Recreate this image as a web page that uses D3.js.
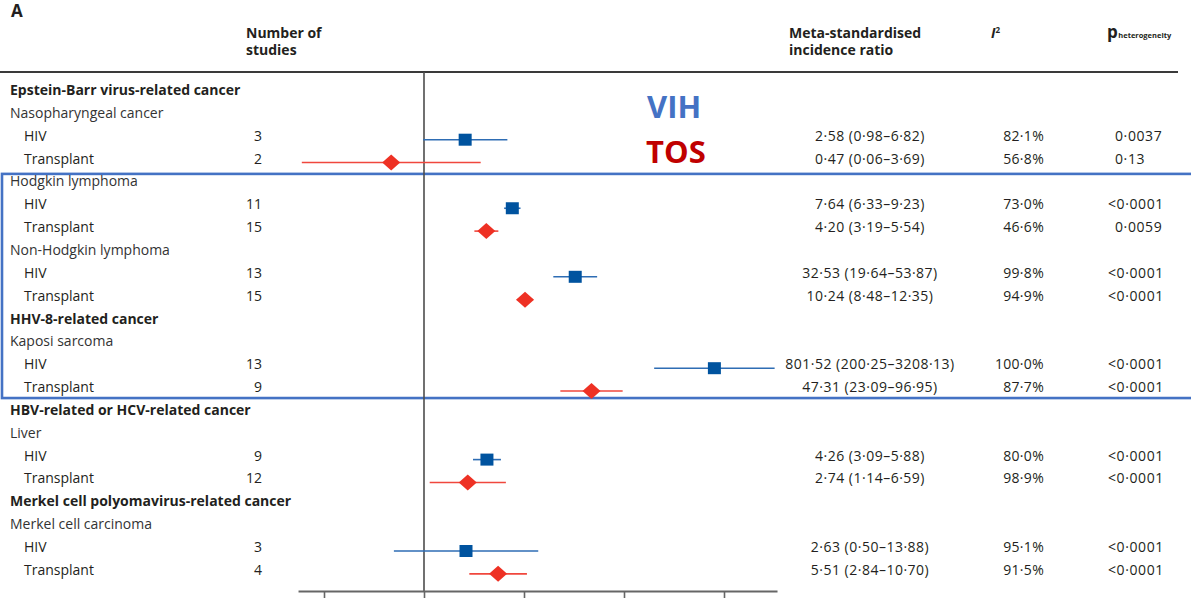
<!DOCTYPE html>
<html>
<head>
<meta charset="utf-8">
<script src="https://cdn.jsdelivr.net/npm/d3@7"></script>
<style>
  html, body { margin: 0; padding: 0; background: #fff; }
  svg { display: block; }
  text { font-family: "Open Sans", "DejaVu Sans", sans-serif; fill: #231F20; }
</style>
</head>
<body>
<svg id="chart" width="1191" height="598"></svg>
<script>
// ---------------- data ----------------
const cancers = ["Nasopharyngeal cancer", "Hodgkin lymphoma", "Non-Hodgkin lymphoma", "Kaposi sarcoma", "Liver", "Merkel cell carcinoma"];
const groupHeads = ["Epstein-Barr virus-related cancer", null, null, "HHV-8-related cancer", "HBV-related or HCV-related cancer", "Merkel cell polyomavirus-related cancer"];
const populations = ["HIV", "Transplant"];

const hivStudies = [3, 11, 13, 13, 9, 3];
const txStudies  = [2, 15, 15, 9, 12, 4];

const hivEst = [2.58, 7.64, 32.53, 801.52, 4.26, 2.63];
const hivLo  = [0.98, 6.33, 19.64, 200.25, 3.09, 0.50];
const hivHi  = [6.82, 9.23, 53.87, 3208.13, 5.88, 13.88];

const txEst = [0.47, 4.20, 10.24, 47.31, 2.74, 5.51];
const txLo  = [0.06, 3.19, 8.48, 23.09, 1.14, 2.84];
const txHi  = [3.69, 5.54, 12.35, 96.95, 6.59, 10.70];

const hivI2 = ["82·1%", "73·0%", "99·8%", "100·0%", "80·0%", "95·1%"];
const txI2  = ["56·8%", "46·6%", "94·9%", "87·7%", "98·9%", "91·5%"];

const hivP = ["0·0037", "<0·0001", "<0·0001", "<0·0001", "<0·0001", "<0·0001"];
const txP  = ["0·13", "0·0059", "<0·0001", "<0·0001", "<0·0001", "<0·0001"];

const tickValues = [0.1, 1, 10, 100, 1000];
const axisExtent = [0.055, 3390];

const legendLabels = ["VIH", "TOS"];

// ---------------- build rows ----------------
const rows = [];
cancers.forEach((c, i) => {
  if (groupHeads[i]) rows.push({ type: "cat", label: groupHeads[i] });
  rows.push({ type: "sub", label: c });
  rows.push({ type: "hiv", label: populations[0], n: hivStudies[i], est: hivEst[i], lo: hivLo[i], hi: hivHi[i], i2: hivI2[i], p: hivP[i] });
  rows.push({ type: "tx", label: populations[1], n: txStudies[i], est: txEst[i], lo: txLo[i], hi: txHi[i], i2: txI2[i], p: txP[i] });
});

// ---------------- scales ----------------
const svg = d3.select("#chart");
const x = d3.scaleLog().domain([1, 1000]).range([424, 724]);
const y = d3.scaleLinear().domain([0, rows.length - 1]).range([92.5, 92.5 + (rows.length - 1) * 22.85]);
const fmt = v => v.toFixed(2).replace(".", "·");

const blueMark = "#00539F", blueLine = "#2E6DB4";
const redMark = "#EE3124", redLine = "#F0473D";

// ---------------- header ----------------
svg.append("text").attr("x", 11).attr("y", 17).attr("font-size", 17).attr("font-weight", 700).text("A");
svg.append("text").attr("x", 246).attr("y", 38).attr("font-size", 14).attr("font-weight", 700).text("Number of");
svg.append("text").attr("x", 246).attr("y", 55).attr("font-size", 14).attr("font-weight", 700).text("studies");
svg.append("text").attr("x", 789).attr("y", 38).attr("font-size", 14).attr("font-weight", 700).text("Meta-standardised");
svg.append("text").attr("x", 789).attr("y", 55).attr("font-size", 14).attr("font-weight", 700).text("incidence ratio");
const i2h = svg.append("text").attr("x", 991).attr("y", 38).attr("font-size", 14).attr("font-weight", 700);
i2h.append("tspan").attr("font-style", "italic").text("I");
i2h.append("tspan").attr("font-size", 8).attr("dy", -5).text("2");
const ph = svg.append("text").attr("x", 1107).attr("y", 38).attr("font-weight", 700);
ph.append("tspan").attr("font-size", 17).text("p");
ph.append("tspan").attr("font-size", 7.5).attr("dx", 0.5).text("heterogeneity");

svg.append("line").attr("x1", 0).attr("x2", 1178).attr("y1", 72).attr("y2", 72)
  .attr("stroke", "#3a3a3a").attr("stroke-width", 1.8);

// ---------------- highlight box ----------------
svg.append("rect")
  .attr("x", 2).attr("width", 1200)
  .attr("y", y(4) - 10).attr("height", (y(13) + 8.5) - (y(4) - 10))
  .attr("fill", "none").attr("stroke", "#4472C4").attr("stroke-width", 2.6);

// ---------------- null line & axis ----------------
svg.append("line").attr("x1", x(1)).attr("x2", x(1)).attr("y1", 72).attr("y2", 591)
  .attr("stroke", "#4d4d4d").attr("stroke-width", 1.6);

const axisScale = x.copy().domain(axisExtent).range(axisExtent.map(x));
const axisG = svg.append("g").attr("transform", "translate(0,591)")
  .call(d3.axisBottom(axisScale).tickValues(tickValues).tickSizeInner(12).tickSizeOuter(0).tickFormat(() => ""));
axisG.select(".domain").attr("stroke", "#666").attr("stroke-width", 2);
axisG.selectAll(".tick line").attr("stroke", "#666").attr("stroke-width", 1.6);

// ---------------- rows ----------------
const rowG = svg.append("g");
rows.forEach((r, k) => {
  const yy = y(k);
  const ty = yy + 2.5;
  if (r.type === "cat") {
    rowG.append("text").attr("x", 10).attr("y", ty).attr("font-size", 14).attr("font-weight", 700).text(r.label);
    return;
  }
  if (r.type === "sub") {
    rowG.append("text").attr("x", 10).attr("y", ty).attr("font-size", 14).style("fill", "#333").text(r.label);
    return;
  }
  rowG.append("text").attr("x", 24).attr("y", ty).attr("font-size", 14).text(r.label);
  rowG.append("text").attr("x", 262).attr("y", ty).attr("font-size", 14).attr("text-anchor", "end").text(r.n);
  rowG.append("text").attr("x", 870).attr("y", ty).attr("font-size", 14).attr("text-anchor", "middle")
    .attr("letter-spacing", 0.5).text(`${fmt(r.est)} (${fmt(r.lo)}–${fmt(r.hi)})`);
  rowG.append("text").attr("x", 1044).attr("y", ty).attr("font-size", 14).attr("text-anchor", "end")
    .attr("letter-spacing", 0.3).text(r.i2);
  rowG.append("text").attr("x", r.p.startsWith("<") ? 1108 : 1115).attr("y", ty).attr("font-size", 14)
    .attr("letter-spacing", 0.6).text(r.p);

  const my = yy + 1.5;
  const isHiv = r.type === "hiv";
  rowG.append("line").attr("x1", x(r.lo)).attr("x2", x(r.hi)).attr("y1", my).attr("y2", my)
    .attr("stroke", isHiv ? blueLine : redLine).attr("stroke-width", 1.6);
  if (isHiv) {
    rowG.append("rect").attr("x", x(r.est) - 6.5).attr("y", my - 6).attr("width", 13).attr("height", 12)
      .attr("fill", blueMark);
  } else {
    const cx = x(r.est);
    rowG.append("path")
      .attr("d", `M${cx - 9},${my} L${cx},${my - 8} L${cx + 9},${my} L${cx},${my + 8} Z`)
      .attr("fill", redMark);
  }
});

// ---------------- legend labels ----------------
svg.append("text").attr("x", 647).attr("y", 118).attr("font-size", 31).attr("font-weight", 700)
  .style("fill", "#4472C4").text(legendLabels[0]);
svg.append("text").attr("x", 646).attr("y", 163).attr("font-size", 31).attr("font-weight", 700)
  .style("fill", "#C00000").text(legendLabels[1]);
</script>
</body>
</html>
